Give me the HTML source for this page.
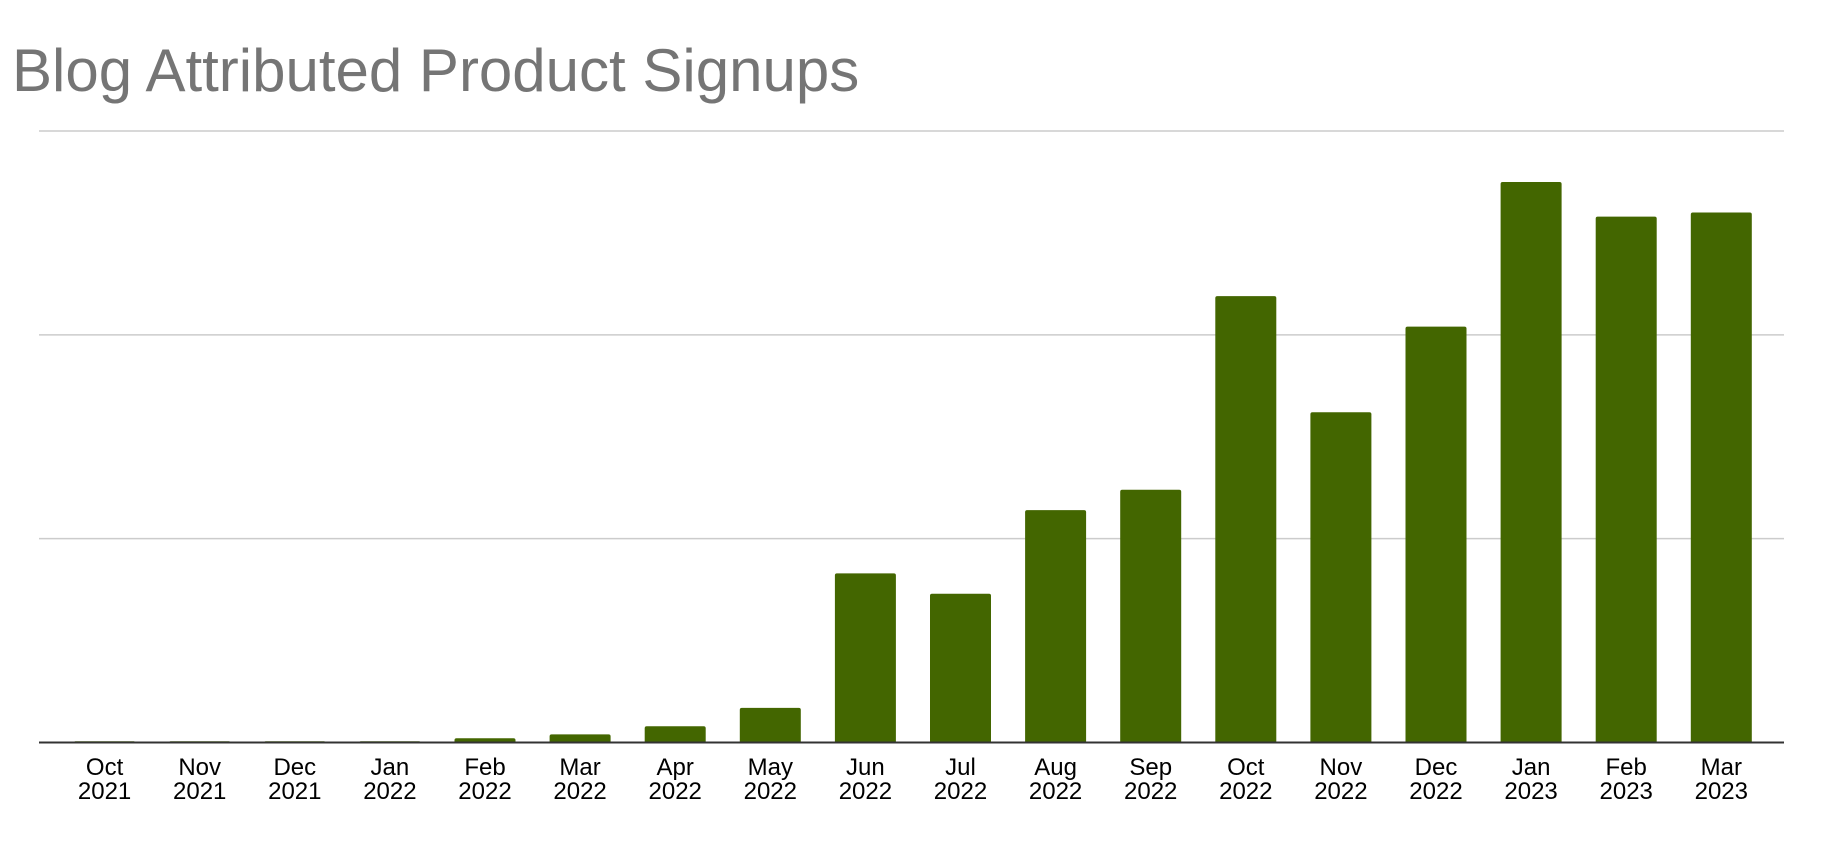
<!DOCTYPE html>
<html><head><meta charset="utf-8"><style>
html,body{margin:0;padding:0;background:#fff;}
svg{display:block;font-family:"Liberation Sans",Arial,sans-serif;}
</style></head><body>
<svg id="chart" width="1822" height="856" viewBox="0 0 1822 856">
<text x="12" y="91" font-size="60" fill="#757575">Blog Attributed Product Signups</text>
<g id="grid"></g><g id="bars"></g><g id="labels"></g>
</svg>
<script>
const months = ["Oct","Nov","Dec","Jan","Feb","Mar","Apr","May","Jun","Jul","Aug","Sep","Oct","Nov","Dec","Jan","Feb","Mar"];
const years = ["2021","2021","2021","2022","2022","2022","2022","2022","2022","2022","2022","2022","2022","2022","2022","2023","2023","2023"];
const values = [0.6,0.6,0.6,0.6,2.1,4,8,17,83,73,114,124,219,162,204,275,258,260];
const gridTicks = [0,100,200,300];

const NS="http://www.w3.org/2000/svg";
const svg=document.getElementById('chart');
const plotL=39, plotR=1784, baseY=742.5, topY=131, maxV=300;
const firstC=104.6, step=95.1, barW=61;
const yScale=v=>baseY-(v/maxV)*(baseY-topY);
const xScale=i=>firstC+i*step;
const grid=document.getElementById('grid');
gridTicks.forEach((t,i)=>{
  if(t===0) return;
  const l=document.createElementNS(NS,'line');
  l.setAttribute('x1',plotL);l.setAttribute('x2',plotR);
  l.setAttribute('y1',yScale(t));l.setAttribute('y2',yScale(t));
  l.setAttribute('stroke','#cccccc');l.setAttribute('stroke-width','1.5');
  
  
  grid.appendChild(l);
});
const bars=document.getElementById('bars');
values.forEach((v,i)=>{
  const y=yScale(v), h=baseY-y;
  const p=document.createElementNS(NS,'path');
  const x=xScale(i)-barW/2, r=Math.min(2,h);
  p.setAttribute('d',`M${x},${baseY}V${y+r}Q${x},${y} ${x+r},${y}H${x+barW-r}Q${x+barW},${y} ${x+barW},${y+r}V${baseY}Z`);
  p.setAttribute('fill','#436600');
  
  
  bars.appendChild(p);
});
const axis=document.createElementNS(NS,'line');
axis.setAttribute('x1',plotL);axis.setAttribute('x2',plotR);
axis.setAttribute('y1',baseY);axis.setAttribute('y2',baseY);
axis.setAttribute('stroke','#333333');axis.setAttribute('stroke-width','2');


svg.appendChild(axis);
const labels=document.getElementById('labels');
months.forEach((m,i)=>{
  const t=document.createElementNS(NS,'text');
  t.setAttribute('x',xScale(i));t.setAttribute('y',775);
  t.setAttribute('text-anchor','middle');t.setAttribute('font-size','24');t.setAttribute('fill','#000');
  
  
  const a=document.createElementNS(NS,'tspan');a.setAttribute('x',xScale(i));a.textContent=m;
  const b=document.createElementNS(NS,'tspan');b.setAttribute('x',xScale(i));b.setAttribute('dy','24');b.textContent=years[i];
  t.appendChild(a);t.appendChild(b);labels.appendChild(t);
});
</script>
</body></html>
